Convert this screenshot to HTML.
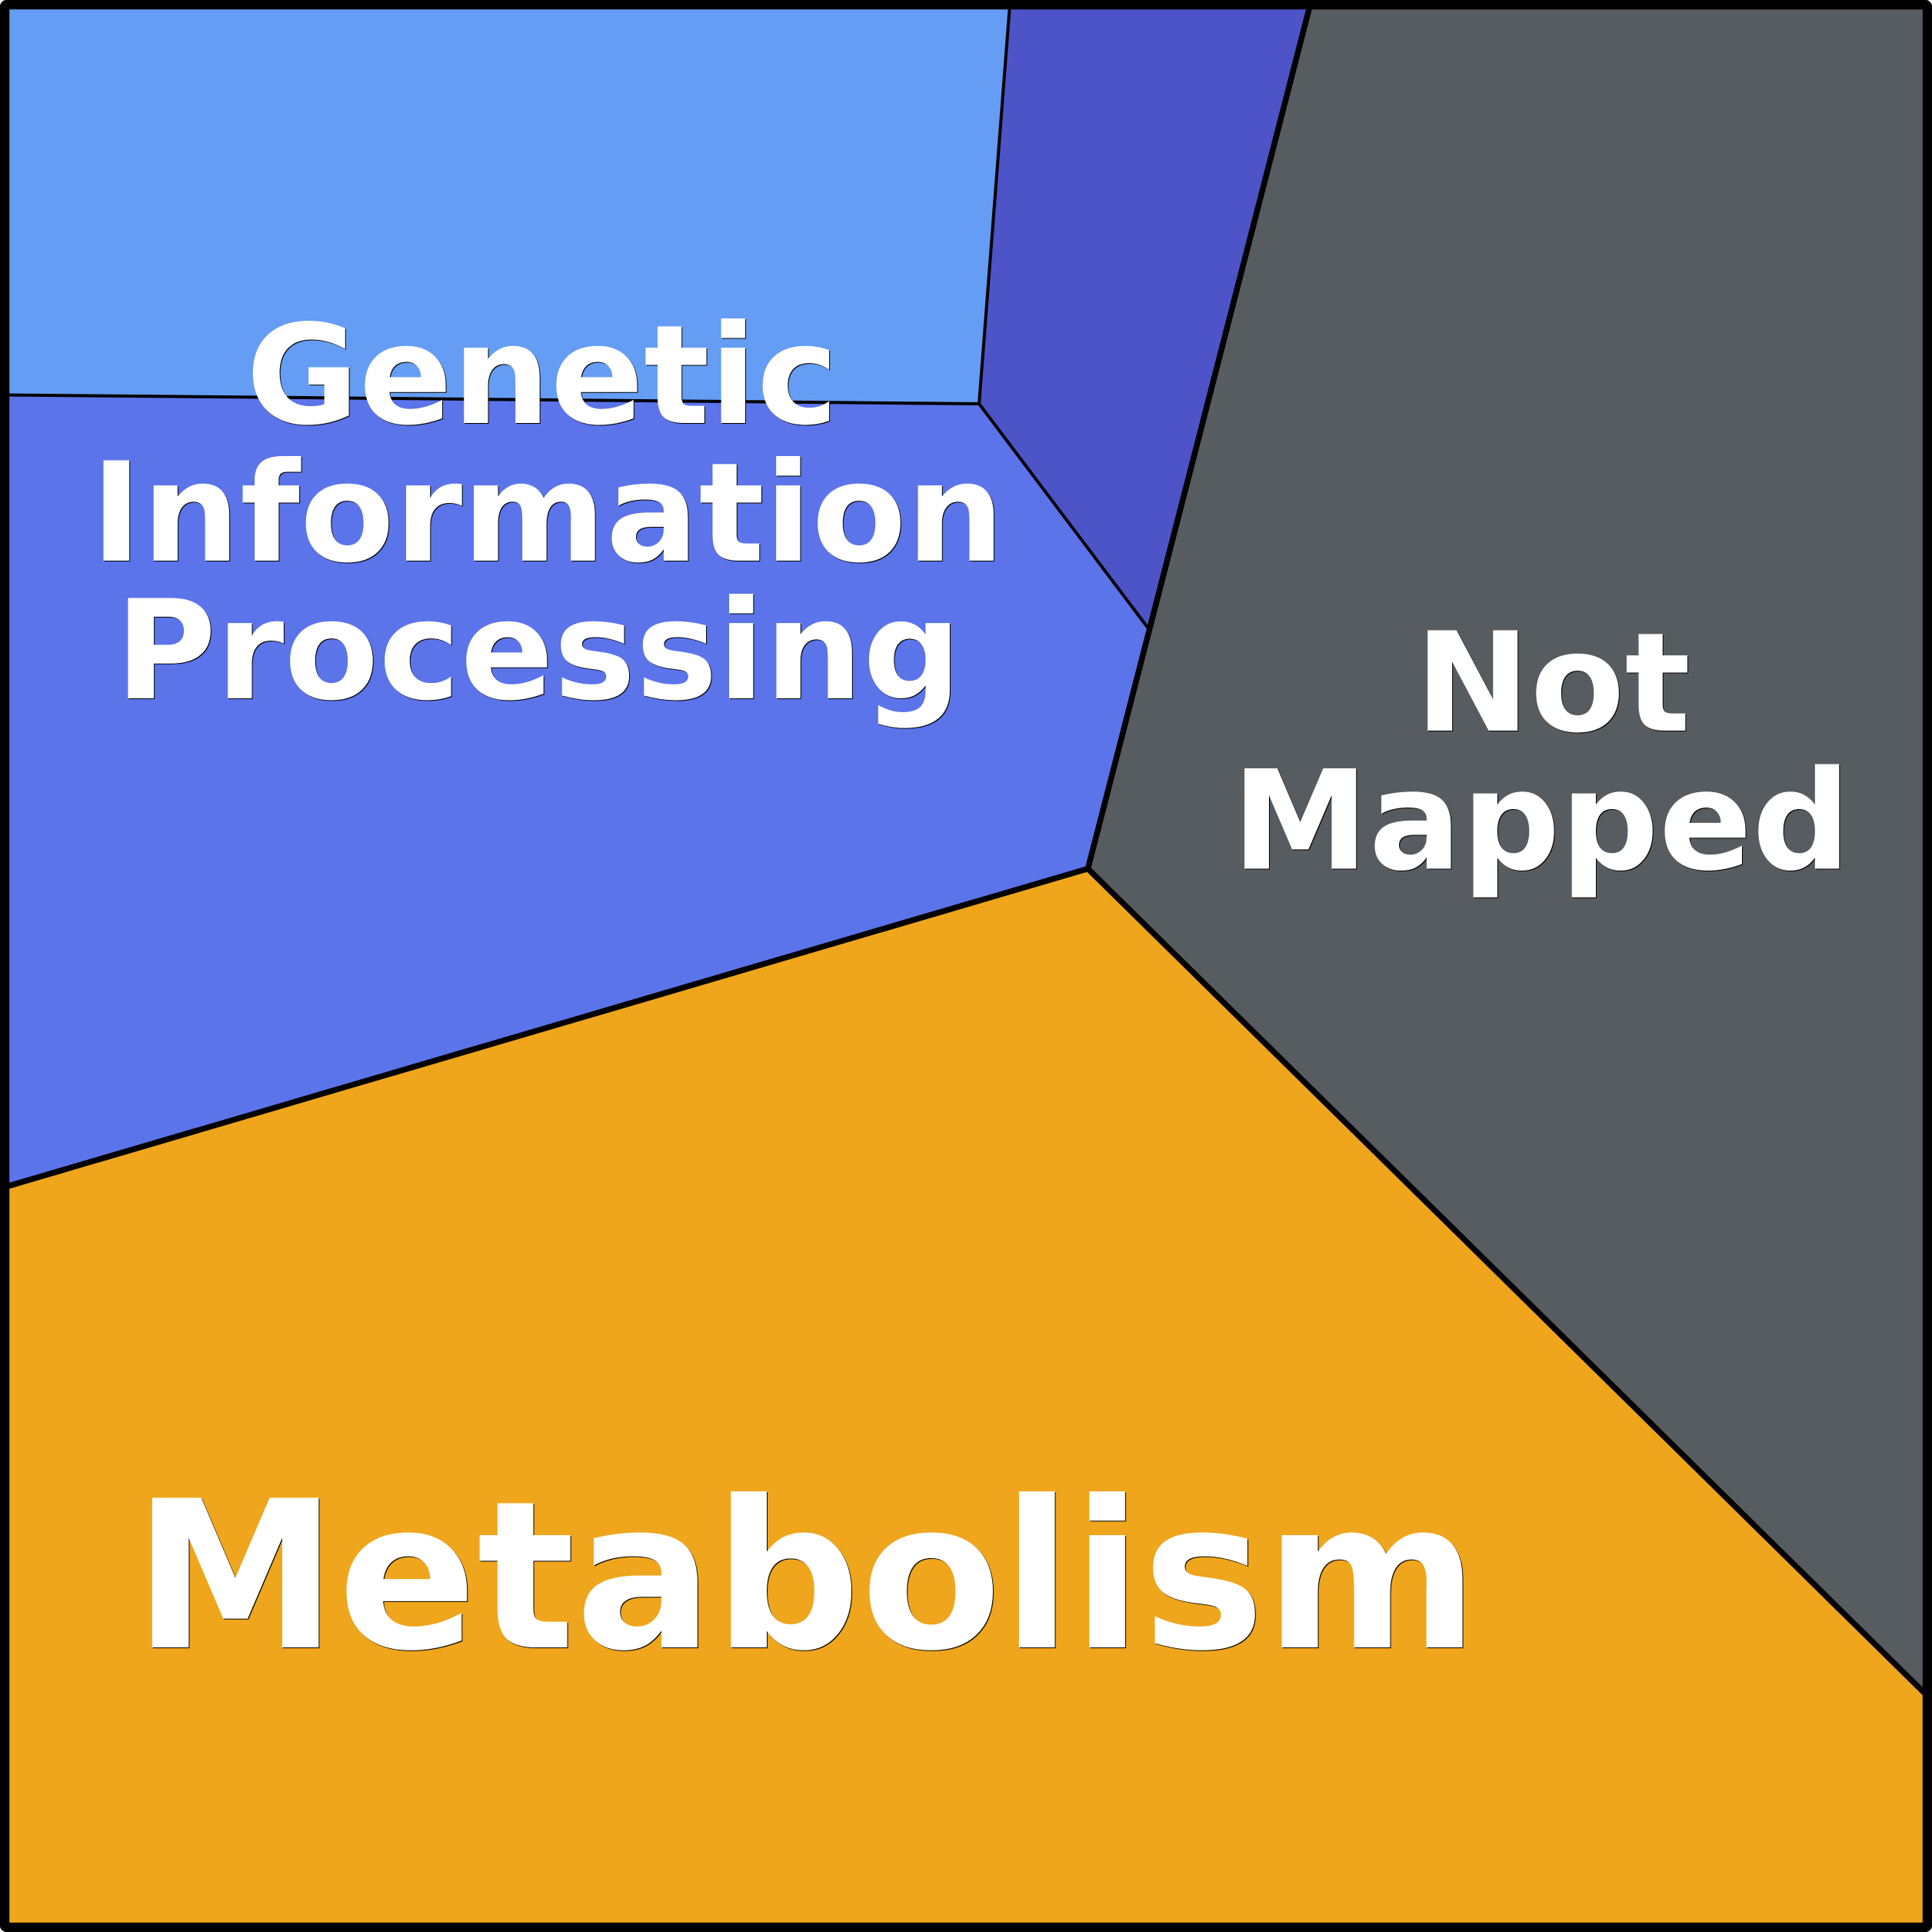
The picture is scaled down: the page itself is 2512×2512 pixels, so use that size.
<!DOCTYPE html>
<html><head><meta charset="utf-8"><style>html,body{margin:0;padding:0;background:#fff}svg{display:block}
text{font-family:"DejaVu Sans",sans-serif;font-weight:700;text-anchor:middle}</style></head><body>
<svg xmlns="http://www.w3.org/2000/svg" width="2512" height="2512" viewBox="0 0 2512 2512">
<rect x="6" y="6" width="2500" height="2500" fill="#efa51c"/>
<polygon points="6,6 1313,6 1273,525 6,513" fill="#659df4"/>
<polygon points="1313,6 1703.5,6 1493,817 1273,525" fill="#4c54c7"/>
<polygon points="6,513.5 1273,525 1493,817 1414.5,1129.5 6,1543.5" fill="#5b74ea"/>
<polygon points="1703.5,6 2506,6 2506,2205 1414.5,1129.5" fill="#575c60"/>
<g fill="none" stroke="#000" stroke-linejoin="round">
<path d="M1313,6 L1273,525 L6,513.5 M1273,525 L1493,817" stroke-width="4"/>
<path d="M1703.5,6 L1414.5,1129.5 L6,1543.5 M1414.5,1129.5 L2506,2205" stroke-width="7.5"/>
<rect x="6" y="6" width="2500" height="2500" rx="3" stroke-width="12.5"/>
</g>
<g font-size="179" fill="#000" transform="translate(1,1)">
<text x="705" y="550">Genetic</text><text x="712" y="729">Information</text><text x="700" y="908">Processing</text>
<text x="2019" y="950">Not</text><text x="2004" y="1129.5">Mapped</text>
</g>
<g font-size="179" fill="#fff">
<text x="705" y="550">Genetic</text><text x="712" y="729">Information</text><text x="700" y="908">Processing</text>
<text x="2019" y="950">Not</text><text x="2004" y="1129.5">Mapped</text>
</g>
<text x="1048" y="2143" font-size="267" fill="#000" transform="translate(1,0)">Metabolism</text>
<text x="1048" y="2142" font-size="267" fill="#fff">Metabolism</text>
</svg>
</body></html>
